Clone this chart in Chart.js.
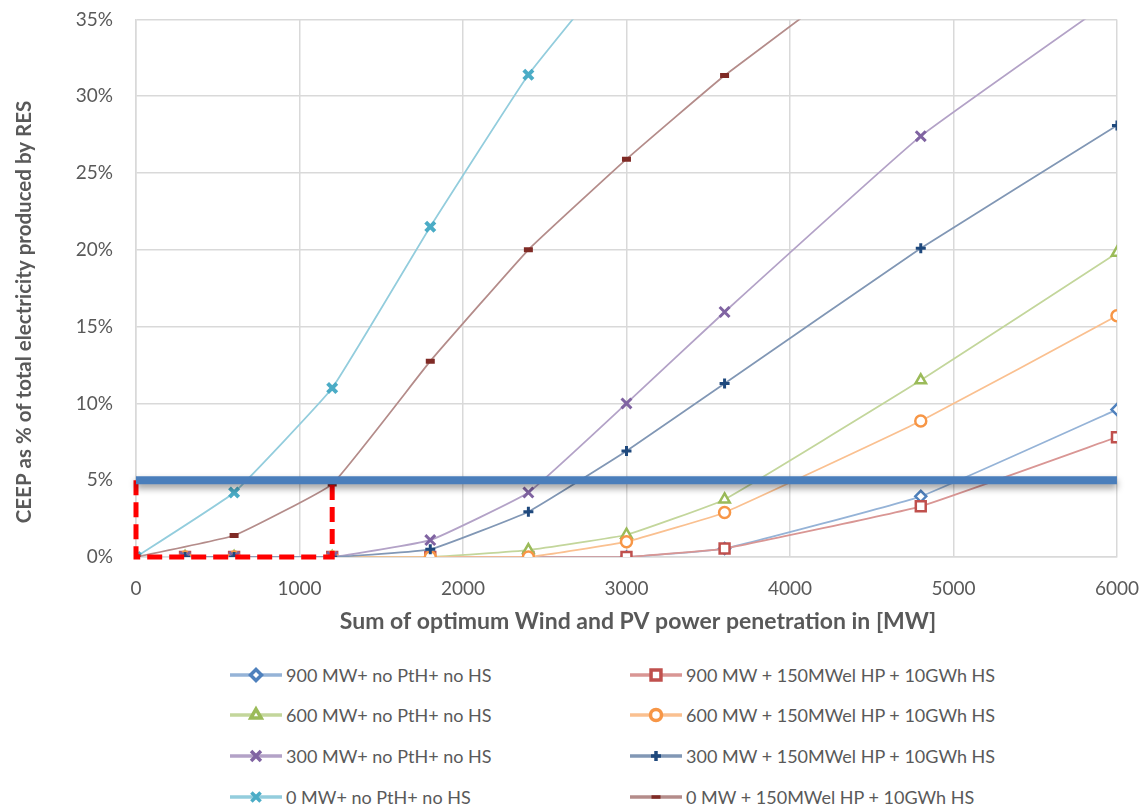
<!DOCTYPE html>
<html>
<head>
<meta charset="utf-8">
<script src="https://cdn.jsdelivr.net/npm/chart.js@4.4.1/dist/chart.umd.min.js"></script>
<style>
  html, body { margin: 0; padding: 0; background: #fff; }
  body { width: 1145px; height: 807px; position: relative; overflow: hidden; font-family: Lato, "Open Sans", sans-serif; }
  #wrap { position: absolute; left: 0; top: -15px; width: 1159px; height: 665px; }
  .leg { position: absolute; height: 20px; display: flex; align-items: center; color: #595959; font-size: 18px; white-space: nowrap; }
  .leg canvas { margin-right: 3px; }
</style>
</head>
<body>
<div id="wrap"><canvas id="chart"></canvas></div>
<div id="legend"></div>
<script>
// x positions (MW) shared by all series
const mw = [0, 300, 600, 1200, 1800, 2400, 3000, 3600, 4800, 6000];

// CEEP in % (null = no point)
const mw900 = [null, 0, 0, 0, 0, 0, 0, 0.55, 3.95, 9.6];
const mw900hs = [null, 0, 0, 0, 0, 0, 0, 0.55, 3.3, 7.8];
const mw600 = [null, 0, 0, 0, 0, 0.45, 1.45, 3.75, 11.5, 19.8];
const mw600hs = [null, 0, 0, 0, 0, 0, 1.0, 2.9, 8.85, 15.7];
const mw300 = [null, 0, 0, 0, 1.1, 4.2, 10.0, 15.95, 27.4, 36.5];
const mw300hs = [null, 0, 0, 0, 0.5, 2.95, 6.9, 11.3, 20.1, 28.1];
const mw0 = [0, null, 4.2, 11.0, 21.5, 31.4, 39.3, null, null, null];
const mw0hs = [0, null, 1.4, 4.75, 12.75, 20.0, 25.9, 31.35, 40.9, null];

const labels = [
  "900 MW+ no PtH+ no HS", "900 MW + 150MWel HP + 10GWh HS",
  "600 MW+ no PtH+ no HS", "600 MW + 150MWel HP + 10GWh HS",
  "300 MW+ no PtH+ no HS", "300 MW + 150MWel HP + 10GWh HS",
  "0 MW+ no PtH+ no HS", "0 MW + 150MWel HP + 10GWh HS"
];

// 5 % target line and the red dashed box
const targetX = [0, 6000];
const targetY = [5, 5];
const boxX = [0, 0, 1200, 1200];
const boxY = [5, 0, 0, 5];

const yTicks = [0, 5, 10, 15, 20, 25, 30, 35];
const xTicks = [0, 1000, 2000, 3000, 4000, 5000, 6000];

const styles = [
  { line: "#95b3d7", mark: "#4f81bd", shape: "rectRot", r: 5.5, bw: 2.5, fill: "#fff" },
  { line: "#d99694", mark: "#c0504d", shape: "rect", r: 7, bw: 2.5, fill: "#fff" },
  { line: "#c3d69b", mark: "#9bbb59", shape: "triangle", r: 6, bw: 2.5, fill: "#fff" },
  { line: "#fac090", mark: "#f79646", shape: "circle", r: 5.5, bw: 2.5, fill: "#fff" },
  { line: "#b3a2c7", mark: "#8064a2", shape: "crossRot", r: 7, bw: 3, fill: "#8064a2" },
  { line: "#8197b5", mark: "#1f497d", shape: "cross", r: 5, bw: 3, fill: "#1f497d" },
  { line: "#93cddd", mark: "#4bacc6", shape: "crossRot", r: 6.5, bw: 4, fill: "#4bacc6" },
  { line: "#b48c8a", mark: "#7f2a25", shape: "line", r: 4.5, bw: 5, fill: "#7f2a25" }
];

function toPoints(xs, ys) {
  const pts = [];
  xs.forEach((x, i) => {
    if (ys[i] !== null) pts.push({ x: x, y: ys[i] });
  });
  return pts;
}

const seriesValues = [mw900, mw900hs, mw600, mw600hs, mw300, mw300hs, mw0, mw0hs];

const datasets = seriesValues.map((vals, i) => {
  const s = styles[i];
  return {
    label: labels[i],
    data: toPoints(mw, vals),
    borderColor: s.line,
    borderWidth: 1.75,
    tension: 0.1,
    pointStyle: s.shape,
    pointRadius: s.r,
    pointBorderWidth: s.bw,
    pointBorderColor: s.mark,
    pointBackgroundColor: s.fill,
    order: 10 - i
  };
});

datasets.push({
  label: "box",
  data: toPoints(boxX, boxY),
  borderColor: "#ff0000",
  borderWidth: 5,
  borderDash: [15, 7],
  pointRadius: 0,
  tension: 0,
  clip: false,
  order: -1
});
datasets.push({
  label: "target",
  data: toPoints(targetX, targetY),
  borderColor: "#4a7ebb",
  borderWidth: 8,
  borderCapStyle: "butt",
  pointRadius: 0,
  tension: 0,
  clip: false,
  order: -2
});

const textColor = "#595959";
const gridColor = "#d9d9d9";
const shiftY = 15; // canvas is moved up by this much

const shadowPlugin = {
  id: "shadow",
  beforeDatasetDraw(chart, args) {
    if (chart.data.datasets[args.index].label === "target") {
      const ctx = chart.ctx;
      ctx.save();
      ctx.shadowColor = "rgba(0,0,0,0.4)";
      ctx.shadowBlur = 7;
      ctx.shadowOffsetY = 4;
    }
  },
  afterDatasetDraw(chart, args) {
    if (chart.data.datasets[args.index].label === "target") chart.ctx.restore();
  }
};

const titlePlugin = {
  id: "titles",
  afterDraw(chart) {
    const ctx = chart.ctx;
    ctx.save();
    ctx.fillStyle = textColor;
    ctx.textAlign = "center";
    ctx.textBaseline = "middle";
    ctx.font = "bold 23px Lato, 'Open Sans', sans-serif";
    ctx.fillText("Sum of optimum Wind and PV power penetration in [MW]", 638, 622 + shiftY);
    ctx.font = "bold 20.5px Lato, 'Open Sans', sans-serif";
    ctx.translate(24, 312 + shiftY);
    ctx.rotate(-Math.PI / 2);
    ctx.fillText("CEEP as % of total electricity produced by RES", 0, 0);
    ctx.restore();
  }
};

new Chart(document.getElementById("chart").getContext("2d"), {
  type: "line",
  data: { datasets: datasets },
  plugins: [shadowPlugin, titlePlugin],
  options: {
    responsive: true,
    maintainAspectRatio: false,
    animation: false,
    layout: { padding: { top: 4, right: 11, left: 0, bottom: 0 } },
    plugins: { legend: { display: false }, tooltip: { enabled: false } },
    scales: {
      x: {
        type: "linear",
        min: 0,
        max: 6000,
        afterBuildTicks: (scale) => { scale.ticks = xTicks.map((v) => ({ value: v })); },
        afterFit: (scale) => { scale.height = 93; },
        grid: { color: gridColor, lineWidth: 1.5, drawTicks: false },
        border: { color: gridColor, width: 1.5 },
        ticks: { color: textColor, font: { size: 19, family: "Lato" }, padding: 20, callback: (v) => String(v) }
      },
      y: {
        min: 0,
        max: 35,
        afterBuildTicks: (scale) => { scale.ticks = yTicks.map((v) => ({ value: v })); },
        afterFit: (scale) => { scale.width = 136; },
        grid: { color: gridColor, lineWidth: 1.5, drawTicks: false },
        border: { color: gridColor, width: 1.5 },
        ticks: {
          color: textColor,
          font: { size: 19, family: "Lato" },
          padding: 23,
          callback: (v) => v + "%"
        }
      }
    }
  }
});

// legend: two columns, four rows
const legend = document.getElementById("legend");
const rowY = [675, 715, 756, 797];
const colX = [230, 630];
labels.forEach((text, i) => {
  const s = styles[i];
  const item = document.createElement("div");
  item.className = "leg";
  item.style.left = colX[i % 2] + "px";
  item.style.top = (rowY[Math.floor(i / 2)] - 10) + "px";
  const c = document.createElement("canvas");
  c.width = 53;
  c.height = 20;
  const ctx = c.getContext("2d");
  ctx.strokeStyle = s.line;
  ctx.lineWidth = 3.5;
  ctx.beginPath();
  ctx.moveTo(0, 10);
  ctx.lineTo(52, 10);
  ctx.stroke();
  ctx.strokeStyle = s.mark;
  ctx.fillStyle = s.fill;
  Chart.helpers.drawPoint(ctx, { pointStyle: s.shape, radius: s.r, rotation: 0, borderWidth: s.bw }, 26, 10);
  const span = document.createElement("span");
  span.textContent = text;
  item.appendChild(c);
  item.appendChild(span);
  legend.appendChild(item);
});
</script>
</body>
</html>
